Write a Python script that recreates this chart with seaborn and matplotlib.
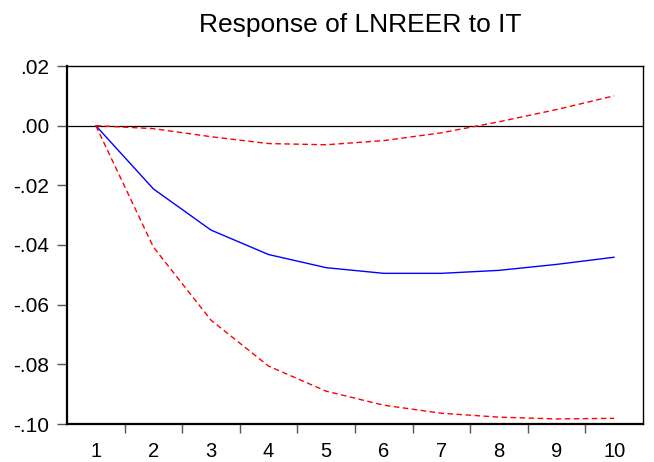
import numpy as np
import pandas as pd
import matplotlib
matplotlib.use("Agg")
import matplotlib.pyplot as plt
import seaborn as sns

periods = [1, 2, 3, 4, 5, 6, 7, 8, 9, 10]
response = [0.0, -0.0212, -0.0350, -0.0432, -0.0476, -0.0495, -0.0495, -0.0485, -0.0465, -0.0441]
upper = [0.0, -0.0010, -0.0037, -0.0060, -0.0064, -0.0050, -0.0024, 0.0013, 0.0054, 0.0100]
lower = [0.0, -0.0407, -0.0652, -0.0806, -0.0890, -0.0937, -0.0964, -0.0977, -0.0983, -0.0981]
yticks = [0.02, 0.00, -0.02, -0.04, -0.06, -0.08, -0.10]
ytick_labels = [".02", ".00", "-.02", "-.04", "-.06", "-.08", "-.10"]
title = "Response of LNREER to IT"

sns.set_style("white")
plt.rcParams['font.family'] = ['Liberation Sans', 'DejaVu Sans']
plt.rcParams['text.color'] = 'black'
plt.rcParams['xtick.labelcolor'] = 'black'
plt.rcParams['ytick.labelcolor'] = 'black'

df = pd.DataFrame({"period": periods, "response": response, "upper": upper, "lower": lower})

fig = plt.figure(figsize=(6.54, 4.62), dpi=100)
ax = fig.add_axes([67/654, 38/462, 576/654, 358/462])

ax.axhline(0, color="black", lw=0.9, zorder=1)
sns.lineplot(data=df, x="period", y="response", ax=ax, color="#0000ff", lw=1.0)
sns.lineplot(data=df, x="period", y="upper", ax=ax, color="#ff0000", lw=1.0, linestyle=(0, (4, 2.5)))
sns.lineplot(data=df, x="period", y="lower", ax=ax, color="#ff0000", lw=1.0, linestyle=(0, (4, 2.5)))

ax.set_xlim(0.5, 10.5)
ax.set_ylim(-0.10, 0.02)
ax.set_yticks(yticks)
ax.set_yticklabels(ytick_labels)
ax.set_xticks(periods)
ax.set_xticklabels([str(p) for p in periods])
ax.set_xticks([p + 0.5 for p in periods[:-1]], minor=True)
ax.tick_params(axis="x", which="major", length=0, labelsize=14.5, pad=13, labelcolor="black")
ax.tick_params(axis="x", which="minor", length=6.5, width=1, color="#555555", direction="out", bottom=True)
ax.tick_params(axis="y", length=7, width=1, labelsize=15, direction="out", left=True, color="#555555", pad=6, labelcolor="black")
ax.set_xlabel("")
ax.set_ylabel("")
for s in ax.spines.values():
    s.set_color("black")
    s.set_linewidth(1.0)
ax.spines["left"].set_linewidth(1.6)
ax.spines["bottom"].set_linewidth(1.6)
fig.text(360/654, 1 - 31.7/462, title, fontsize=19, ha="center", va="baseline", color="black")

fig.savefig("out.png", dpi=100)
